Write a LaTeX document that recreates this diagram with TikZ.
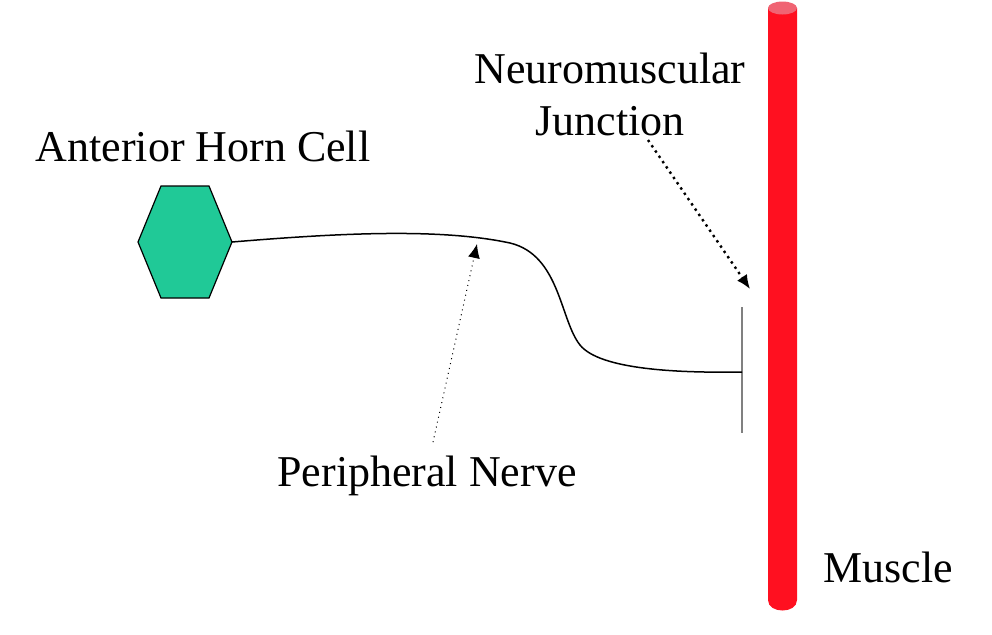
\documentclass[tikz,border=0pt]{standalone}
\usepackage{fontspec}
\setmainfont{Liberation Serif}
\usetikzlibrary{arrows.meta}
\definecolor{cellgreen}{RGB}{32,201,151}
\definecolor{musclered}{RGB}{255,16,32}
\definecolor{capred}{RGB}{240,100,115}
\begin{document}
\begin{tikzpicture}[x=0.5pt,y=0.5pt,yscale=-1,xscale=1]
\tikzset{lbl/.style={inner sep=0.75pt,font=\fontsize{22}{26}\selectfont,align=center},
  pointer/.style={dotted,-{Latex[length=7pt,width=6pt]}}}
\useasboundingbox (0,0) rectangle (992,634);

%Shape: Cylinder [id:muscle]
\fill [musclered] (768,8) -- (768,600) .. controls (768,614) and (797,614) .. (797,600) -- (797,8) -- cycle ;
\fill [capred] (782.5,8) ellipse [x radius=14.5,y radius=6.5] ;
%Shape: Hexagon [id:cell]
\draw [fill=cellgreen,line width=0.6pt] (138,242) -- (161,186) -- (209,186) -- (232,242) -- (209,298) -- (161,298) -- cycle ;
\coordinate (cellR) at (232,242);
%Shape: Line [id:junction]
\draw [gray,line width=1pt] (742,307) -- (742,433) ;
\coordinate (jnEnd) at (742,372);
%Shape: Curve [id:nerve]
\draw [line width=0.75pt] (cellR) .. controls (340,233) and (440,228) .. (510,243) .. controls (560,255) and (560,320) .. (580,345) .. controls (600,370) and (680,373) .. (jnEnd) ;

% Text Node
\node [lbl] (ahc) at (203,146) {Anterior Horn Cell};
% Text Node
\node [lbl] (nmj) at (610,94) {Neuromuscular\\Junction};
% Text Node
\node [lbl] (pn) at (427,476) {Peripheral Nerve};
% Text Node
\node [lbl] (mus) at (888,567) {Muscle};

\coordinate (pnTip) at (477,244);
\coordinate (nmjFrom) at (648,140);
\coordinate (nmjTip) at (750,289);
\draw [pointer,line width=0.5pt] (pn.north) ++(6,-12) -- (pnTip) ;
\draw [pointer,line width=1.2pt] (nmjFrom) -- (nmjTip) ;
\end{tikzpicture}
\end{document}
